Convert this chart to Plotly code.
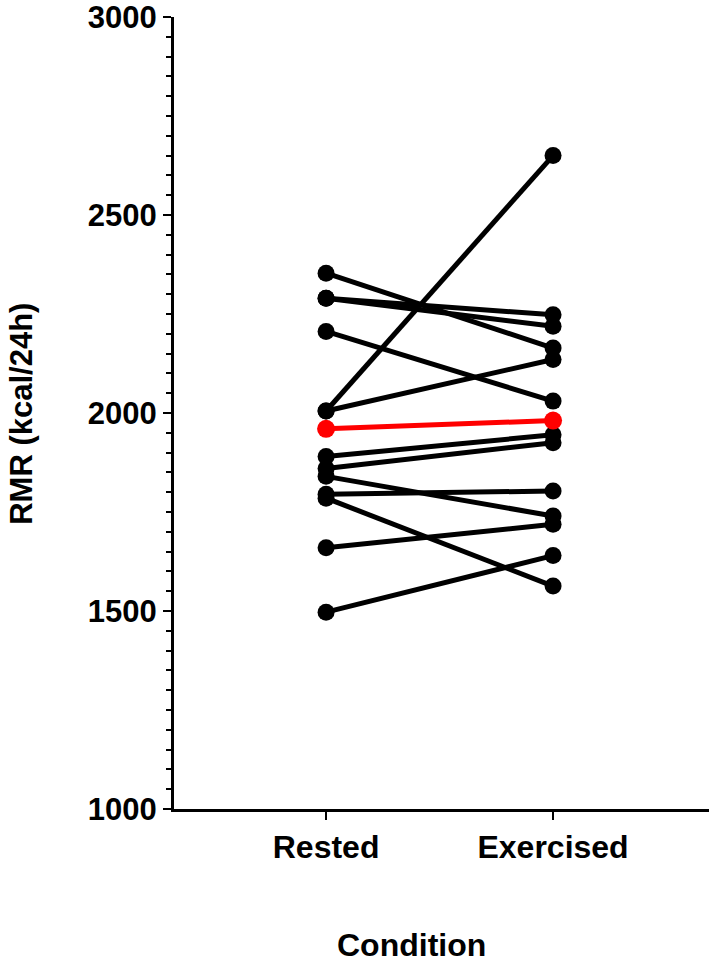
import plotly.graph_objects as go

conditions = ["Rested", "Exercised"]
rested = [2353, 2290, 2290, 2206, 2005, 2005, 1890, 1860, 1840, 1795, 1785, 1660, 1497]
exercised = [2164, 2248, 2219, 2030, 2650, 2135, 1945, 1925, 1740, 1803, 1563, 1719, 1640]
mean_values = [1960, 1981]

y_title = "RMR (kcal/24h)"
x_title = "Condition"
y_ticks = [1000, 1500, 2000, 2500, 3000]

FONT = "Liberation Sans, Arial, sans-serif"
xpos = [0, 1]

fig = go.Figure()
for r, e in zip(rested, exercised):
    fig.add_trace(go.Scatter(
        x=xpos, y=[r, e], mode="lines+markers",
        line=dict(color="black", width=5),
        marker=dict(color="black", size=17),
        showlegend=False, hoverinfo="skip", cliponaxis=False))

fig.add_trace(go.Scatter(
    x=xpos, y=mean_values, mode="lines+markers",
    line=dict(color="#ff0000", width=5),
    marker=dict(color="#ff0000", size=18),
    showlegend=False, cliponaxis=False))

fig.update_layout(
    width=709, height=965,
    margin=dict(l=174, r=0, t=15, b=156),
    plot_bgcolor="white", paper_bgcolor="white",
    xaxis=dict(
        range=[-0.670, 1.687],
        tickmode="array", tickvals=xpos, ticktext=conditions,
        showline=True, linecolor="black", linewidth=3,
        ticks="outside", ticklen=8, tickwidth=2, tickcolor="black",
        showgrid=False, zeroline=False,
        tickfont=dict(family=FONT, size=32, color="black", weight="bold"),
    ),
    yaxis=dict(
        range=[1000, 3000],
        tickmode="array", tickvals=y_ticks, ticktext=[str(v) for v in y_ticks],
        showline=True, linecolor="black", linewidth=3,
        ticks="outside", ticklen=8, tickwidth=2, tickcolor="black",
        ticklabeloverflow="allow",
        minor=dict(dtick=50, ticks="outside", ticklen=5, tickwidth=2, tickcolor="black", showgrid=False),
        showgrid=False, zeroline=False,
        tickfont=dict(family=FONT, size=31, color="black", weight="bold"),
    ),
    annotations=[
        dict(text=y_title, xref="paper", yref="paper", x=(22 - 174) / 535, y=0.499,
             xanchor="center", yanchor="middle", textangle=-90, showarrow=False,
             font=dict(family=FONT, size=31, color="black", weight="bold")),
        dict(text=x_title, xref="paper", yref="paper", x=(411 - 174) / 535, y=(809 - 945) / 794,
             xanchor="center", yanchor="middle", showarrow=False,
             font=dict(family=FONT, size=32, color="black", weight="bold")),
    ],
)

fig.write_html("out.html")
